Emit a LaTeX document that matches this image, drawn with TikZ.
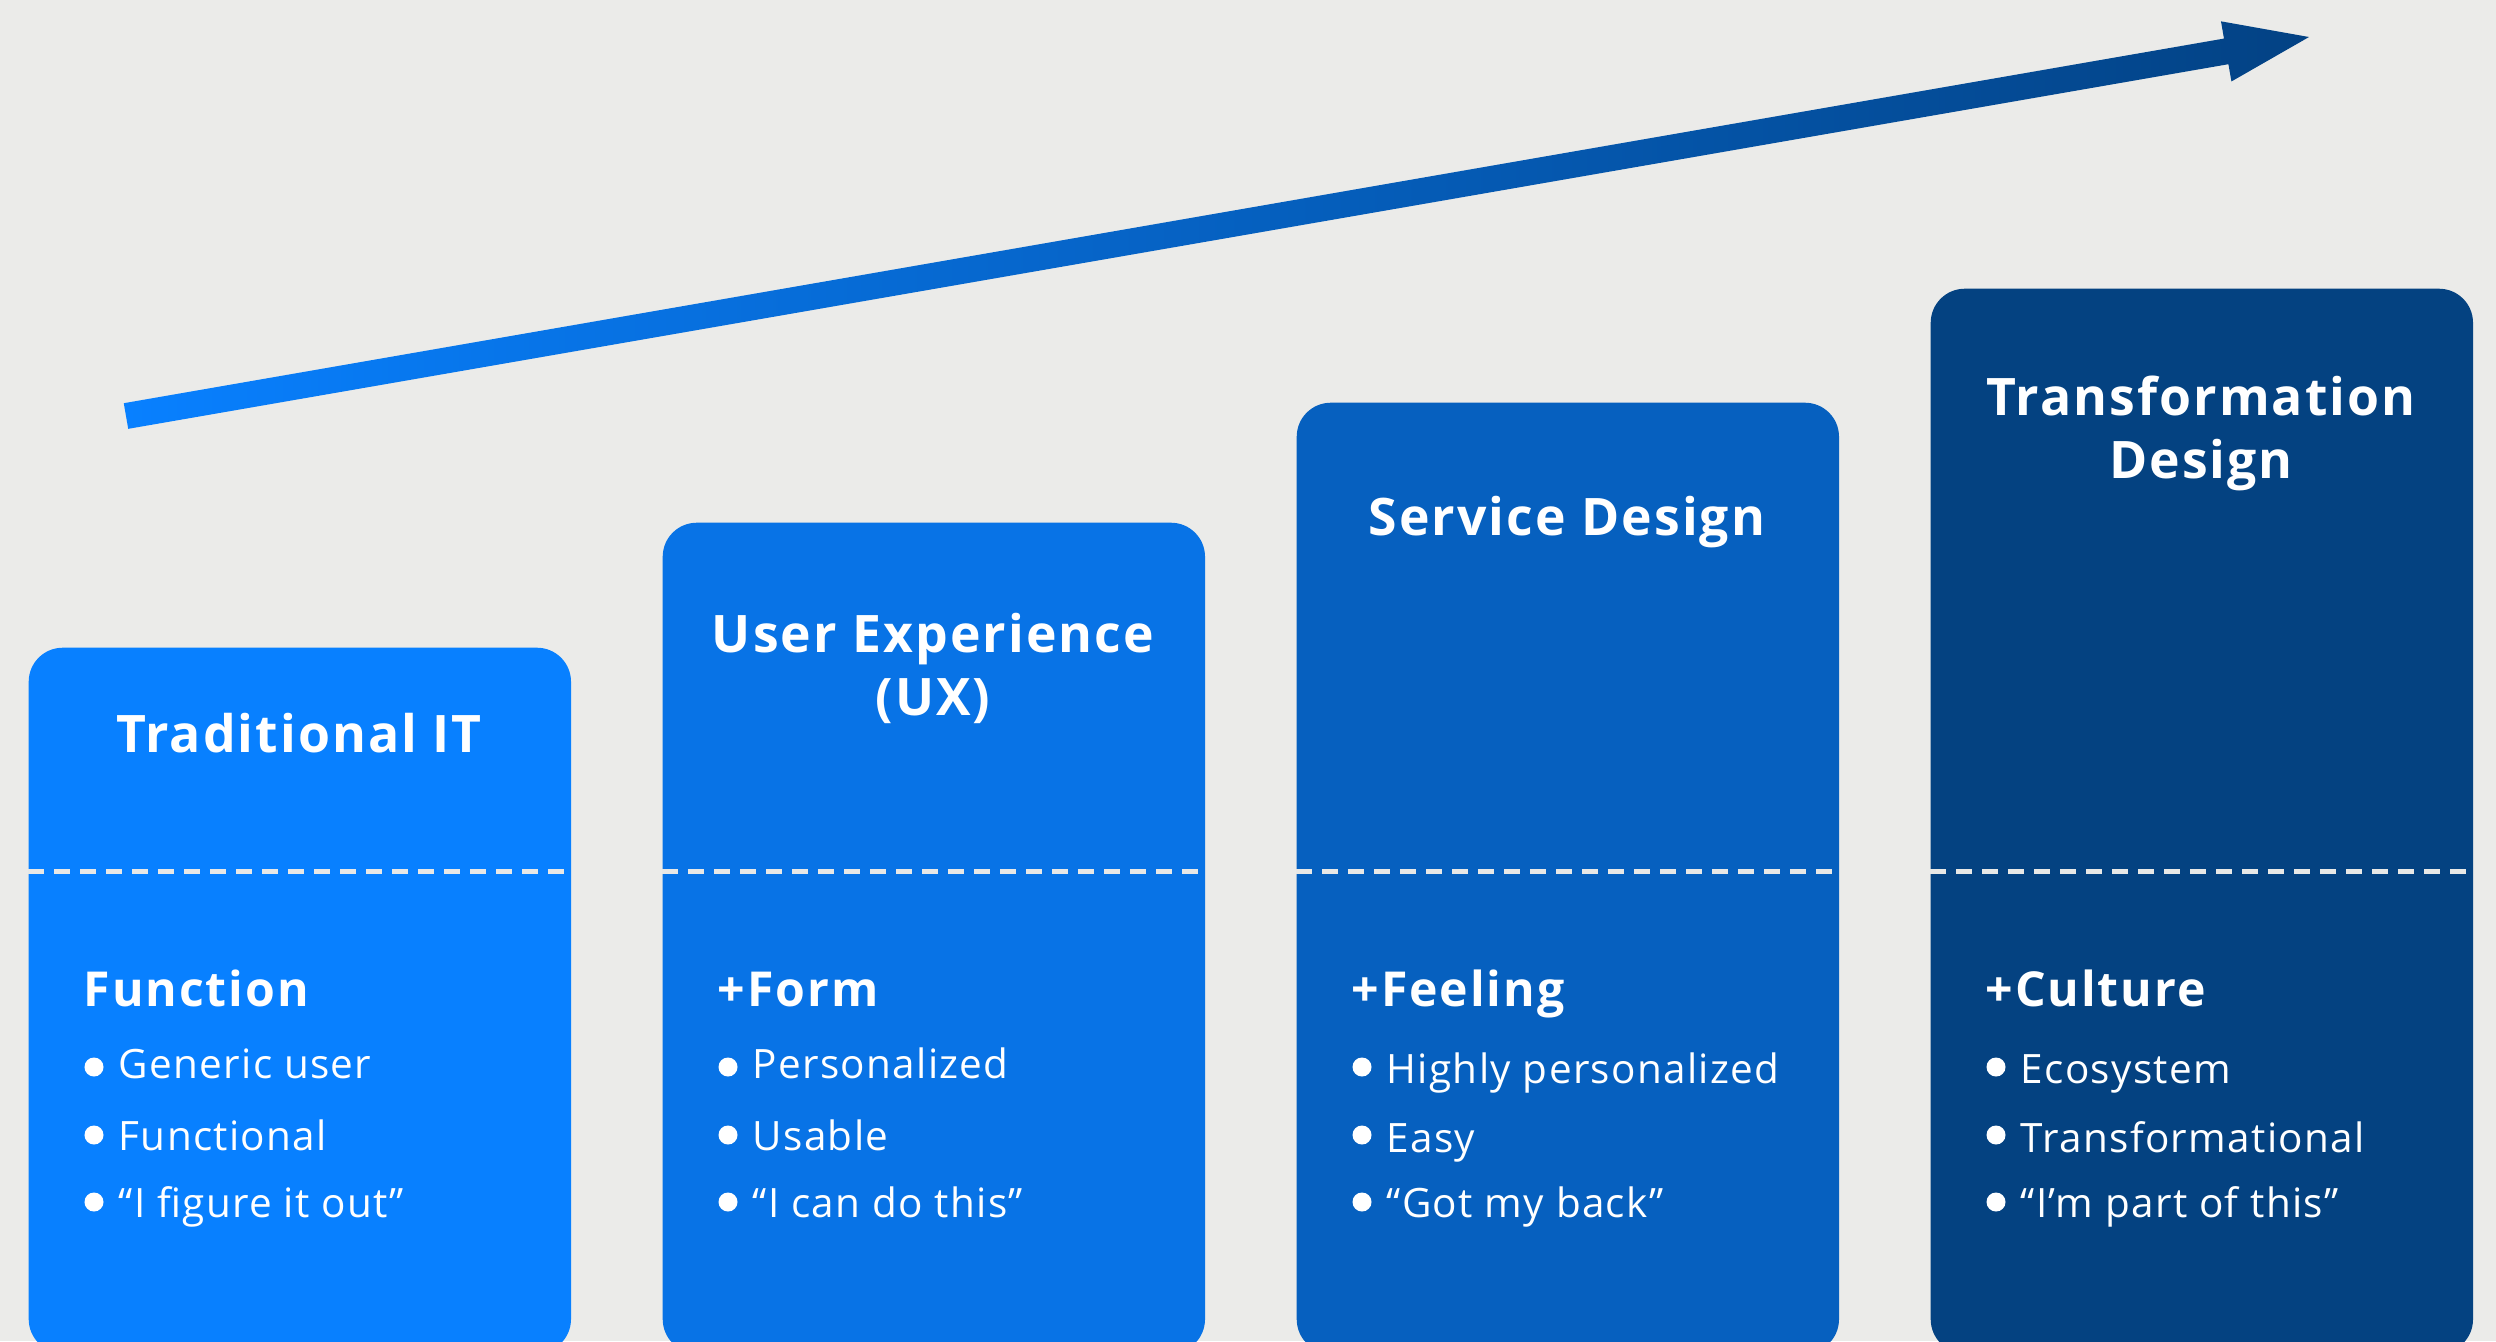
\documentclass[tikz,border=0pt]{standalone}
\usepackage{fontspec}
\setmainfont{Open Sans}
\newfontfamily\headfont[LetterSpace=4]{Open Sans}
\newfontfamily\bodyfont[LetterSpace=3.3]{Open Sans}
\usepackage{xcolor}
\usepackage{tikz}
\usetikzlibrary{positioning,calc}

\definecolor{bgcol}{RGB}{235,235,233}
\definecolor{stageone}{RGB}{8,128,255}
\definecolor{stagetwo}{RGB}{8,115,230}
\definecolor{stagethree}{RGB}{6,96,191}
\definecolor{stagefour}{RGB}{4,66,129}
\definecolor{dashcol}{RGB}{232,232,230}
\definecolor{arrowdark}{RGB}{3,66,132}

\begin{document}
\begin{tikzpicture}[
    x=0.01cm, y=-0.01cm,
    stage/.style={rectangle, inner sep=0, minimum width=5.42cm, rounded corners=0.34cm, anchor=north west},
    stagetitle/.style={text=white, inner sep=0, anchor=base, align=center, font=\headfont\bfseries\fontsize{14.7}{17.8}\selectfont},
    stagesub/.style={text=white, inner sep=0, anchor=base west, font=\headfont\bfseries\fontsize{13.7}{16}\selectfont},
    stageitem/.style={text=white, inner sep=0, anchor=base west, font=\bodyfont\fontsize{11.5}{14}\selectfont},
    bullet/.style={circle, fill=white, inner sep=0, minimum size=0.19cm},
    divider/.style={draw=dashcol, line width=0.05cm, dash pattern=on 0.16cm off 0.1cm}
]

\path[use as bounding box, fill=bgcol] (0,0) rectangle (2496,1341);
\clip (0,0) rectangle (2496,1341);

\coordinate (tail) at (126,416);
\coordinate (tip) at (2309,37);
\coordinate (headbase) at ($(tip)!0.84cm!(tail)$);
\shade[left color=stageone, right color=arrowdark]
    ($(tail)!0.13cm!90:(tip)$) -- ($(headbase)!0.13cm!-90:(tail)$) -- ($(headbase)!0.305cm!-90:(tail)$)
    -- (tip) -- ($(headbase)!0.305cm!90:(tail)$) -- ($(headbase)!0.13cm!90:(tail)$) -- ($(tail)!0.13cm!-90:(tip)$) -- cycle;

\node[stage, fill=stageone, minimum height=7.05cm] (trad) at (28,647) {};
\node[stage, fill=stagetwo, minimum height=8.30cm] (ux) at (662,522) {};
\node[stage, fill=stagethree, minimum height=9.50cm] (service) at (1296,402) {};
\node[stage, fill=stagefour, minimum height=10.64cm] (transform) at (1930,288) {};

\draw[divider] (trad.west |- 0,871) -- (trad.east |- 0,871);
\draw[divider] (ux.west |- 0,871) -- (ux.east |- 0,871);
\draw[divider] (service.west |- 0,871) -- (service.east |- 0,871);
\draw[divider] (transform.west |- 0,871) -- (transform.east |- 0,871);

\node[stagetitle] (tradtitle) at (299,752) {Traditional IT};
\node[stagetitle] (uxtitle) at (933,715) {User Experience\\(UX)};
\node[stagetitle] (servicetitle) at (1567,535) {Service Design};
\node[stagetitle] (transformtitle) at (2201,478) {Transformation\\Design};

\node[stagesub] (tradsub) at (83,1006) {Function};
\node[bullet] (tradbulleta) at (94,1067) {};
\node[bullet] (tradbulletb) at (94,1135) {};
\node[bullet] (tradbulletc) at (94,1202) {};
\node[stageitem] (tradfirst) at (118,1078) {Generic user};
\node[stageitem] (tradsecond) at (118,1150) {Functional};
\node[stageitem] (tradthird) at (118,1217) {“I figure it out”};

\node[stagesub] (uxsub) at (717,1006) {+Form};
\node[bullet] (uxbulleta) at (728,1067) {};
\node[bullet] (uxbulletb) at (728,1135) {};
\node[bullet] (uxbulletc) at (728,1202) {};
\node[stageitem] (uxfirst) at (752,1078) {Personalized};
\node[stageitem] (uxsecond) at (752,1150) {Usable};
\node[stageitem] (uxthird) at (752,1217) {“I can do this”};

\node[stagesub] (servicesub) at (1351,1006) {+Feeling};
\node[bullet] (servicebulleta) at (1362,1067) {};
\node[bullet] (servicebulletb) at (1362,1135) {};
\node[bullet] (servicebulletc) at (1362,1202) {};
\node[stageitem] (servicefirst) at (1386,1083) {Highly personalized};
\node[stageitem] (servicesecond) at (1386,1152) {Easy};
\node[stageitem] (servicethird) at (1386,1217) {“Got my back”};

\node[stagesub] (transformsub) at (1985,1006) {+Culture};
\node[bullet] (transformbulleta) at (1996,1067) {};
\node[bullet] (transformbulletb) at (1996,1135) {};
\node[bullet] (transformbulletc) at (1996,1202) {};
\node[stageitem] (transformfirst) at (2020,1083) {Ecosystem};
\node[stageitem] (transformsecond) at (2020,1152) {Transformational};
\node[stageitem] (transformthird) at (2020,1217) {“I’m part of this”};

\end{tikzpicture}
\end{document}
